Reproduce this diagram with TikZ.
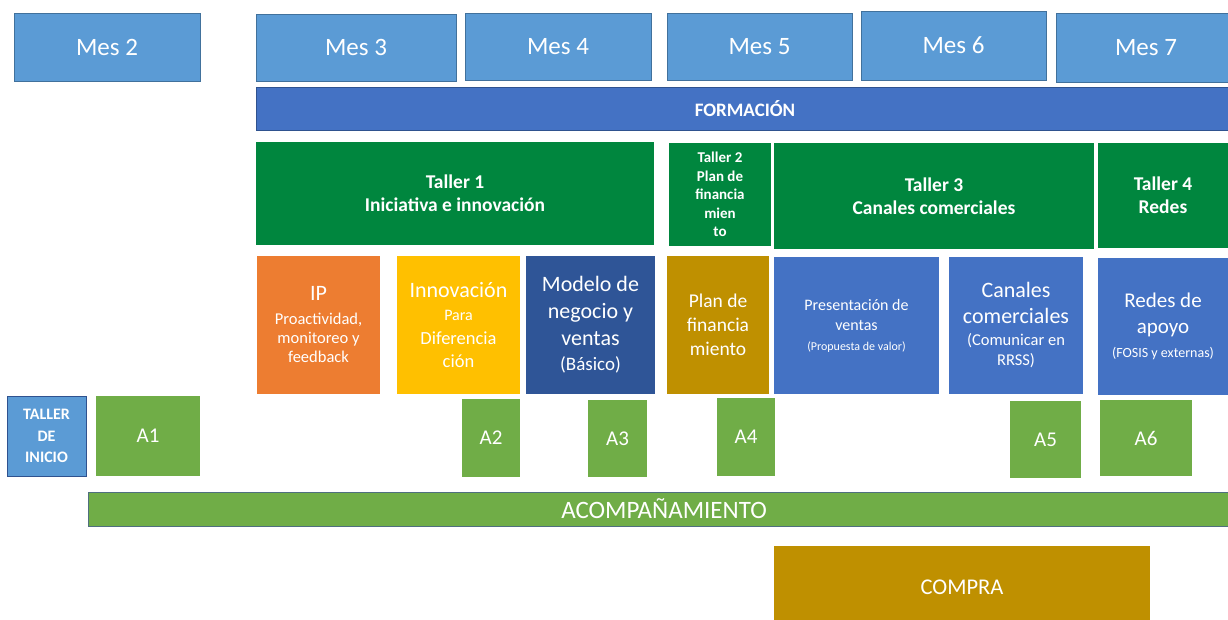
\documentclass[tikz,border=0pt]{standalone}
\usepackage{fontspec}
\setmainfont{Carlito}
\definecolor{mesblue}{HTML}{5B9BD5}
\definecolor{mesedge}{HTML}{41719C}
\definecolor{formblue}{HTML}{4472C4}
\definecolor{formedge}{HTML}{2F528F}
\definecolor{tgreen}{RGB}{0,134,62}
\definecolor{ipor}{HTML}{ED7D31}
\definecolor{inyel}{HTML}{FFC000}
\definecolor{dkblue}{HTML}{2F5597}
\definecolor{gold}{HTML}{BF9000}
\definecolor{agreen}{HTML}{70AD47}
\definecolor{acedge}{HTML}{4F6F7F}
\newcommand\fs[2]{\fontsize{#1}{#2}\selectfont}
\tikzset{
  box/.style={inner sep=0pt, outer sep=0pt, align=center, text=white},
  mes/.style={box, fill=mesblue, draw=mesedge, line width=0.8pt, font=\fs{25}{29}},
  taller/.style={box, fill=tgreen, font=\bfseries\fs{19.5}{23}},
  tema/.style={box},
  act/.style={box, fill=agreen, font=\fs{21}{25}},
}
\begin{document}
\begin{tikzpicture}[x=1pt,y=-1pt]
\useasboundingbox (0,0) rectangle (1228,620);
\clip (0,0) rectangle (1228,620);
% months
\node[mes, minimum width=186pt, minimum height=68pt] (mes2) at (107,47) {Mes 2};
\node[mes, minimum width=200pt, minimum height=67pt] (mes3) at (356,47.5) {Mes 3};
\node[mes, minimum width=186pt, minimum height=67pt] (mes4) at (558,46.5) {Mes 4};
\node[mes, minimum width=185pt, minimum height=67pt] (mes5) at (759.5,46.5) {Mes 5};
\node[mes, minimum width=185pt, minimum height=69pt] (mes6) at (953.5,45.5) {Mes 6};
\node[mes, minimum width=180pt, minimum height=69pt] (mes7) at (1146,47.5) {Mes 7};
% formacion
\node[box, fill=formblue, draw=formedge, line width=0.8pt, font=\bfseries\fs{19}{23},
  minimum width=978pt, minimum height=43pt] (form) at (745,108.5) {FORMACIÓN};
% talleres
\node[taller, minimum width=398pt, minimum height=103pt] (t1) at (455,193.5) {Taller 1\\Iniciativa e innovación};
\node[taller, minimum width=102pt, minimum height=103pt, font=\bfseries\fs{15}{18.5}] (t2) at (720,194.5) {Taller 2\\Plan de\\financia\\mien\\to};
\node[taller, minimum width=320pt, minimum height=106pt] (t3) at (934,196) {Taller 3\\Canales comerciales};
\node[taller, minimum width=130pt, minimum height=105pt] (t4) at (1163,195.5) {Taller 4\\Redes};
% topics
\node[tema, fill=ipor, font=\fs{16.5}{19}, minimum width=123pt, minimum height=138pt] (ip) at (318.5,325)
  {{\fs{22}{24}IP}\\[5pt]Proactividad,\\monitoreo y\\feedback};
\node[tema, fill=inyel, font=\fs{18.5}{23.5}, minimum width=123pt, minimum height=138pt] (innov) at (458.5,325)
  {{\fs{22}{24}Innovación}\\{\fs{16}{18}Para}\\Diferencia\\ción};
\node[tema, fill=dkblue, font=\fs{22}{27}, minimum width=129pt, minimum height=138pt] (modelo) at (590.5,325)
  {Modelo de\\negocio y\\ventas\\[-2pt]{\fs{19}{22}(Básico)}};
\node[tema, fill=gold, font=\fs{19.5}{24}, minimum width=102pt, minimum height=138pt] (plan) at (718,325)
  {Plan de\\financia\\miento};
\node[tema, fill=formblue, font=\fs{16}{20}, minimum width=165pt, minimum height=137pt] (pres) at (856.5,325.5)
  {Presentación de\\ventas\\{\fs{12}{14}(Propuesta de valor)}};
\node[tema, fill=formblue, font=\fs{16.5}{20}, minimum width=134pt, minimum height=137pt] (canal) at (1016,325.5)
  {{\fs{22}{24}Canales}\\[6pt]{\fs{22}{24}comerciales}\\[2pt](Comunicar en\\RRSS)};
\node[tema, fill=formblue, font=\fs{14}{24}, minimum width=130pt, minimum height=137pt] (redes) at (1163,326.5)
  {{\fs{21}{24}Redes de}\\[2pt]{\fs{21}{24}apoyo}\\(FOSIS y externas)};
% taller de inicio + acompanamientos
\node[box, fill=mesblue, draw=formedge, line width=0.8pt, font=\bfseries\fs{16}{21.5},
  minimum width=79pt, minimum height=80pt] (inicio) at (46.5,436) {TALLER\\DE\\INICIO};
\node[act, minimum width=104pt, minimum height=80pt] (a1) at (148,436) {A1};
\node[act, minimum width=58pt, minimum height=78pt] (a2) at (491,438) {A2};
\node[act, minimum width=59pt, minimum height=77pt] (a3) at (617.5,438.5) {A3};
\node[act, minimum width=58pt, minimum height=78pt] (a4) at (746,437) {A4};
\node[act, minimum width=71pt, minimum height=77pt] (a5) at (1045.5,439.5) {A5};
\node[act, minimum width=92pt, minimum height=76pt] (a6) at (1146,438) {A6};
\node[box, fill=agreen, draw=acedge, line width=0.8pt, font=\fs{25}{29},
  minimum width=1152pt, minimum height=34pt] (acomp) at (664,509) {ACOMPAÑAMIENTO};
\node[box, fill=gold, font=\fs{22.5}{26}, minimum width=376pt, minimum height=82pt] (compra) at (962,587) {COMPRA};
\end{tikzpicture}
\end{document}
